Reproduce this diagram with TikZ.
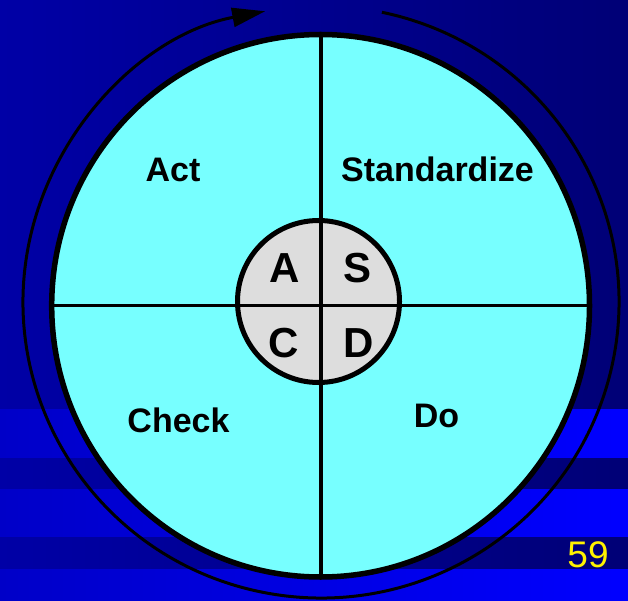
\documentclass[tikz,border=0pt]{standalone}
\usepackage{fontspec}
\setmainfont{Liberation Sans}
\usetikzlibrary{arrows.meta,calc}
\definecolor{bgL}{HTML}{0000A6}
\definecolor{bgR}{HTML}{000076}
\definecolor{stL}{HTML}{0000C8}
\definecolor{stR}{HTML}{0000FF}
\definecolor{cyanfill}{HTML}{77FFFF}
\definecolor{hubfill}{HTML}{DDDDDD}
\begin{document}
\begin{tikzpicture}[x=1pt,y=1pt,
  stripe/.style={left color=stL,right color=stR,draw=none},
  quadlabel/.style={anchor=base,inner sep=0pt,font=\fontsize{34}{40}\selectfont\bfseries},
  hublabel/.style={anchor=base,inner sep=0pt,font=\fontsize{42}{48}\selectfont\bfseries},
  divider/.style={line width=3.5pt,draw=black},
  cycle arrow/.style={line width=3pt,draw=black,-{Triangle[length=33pt,width=19pt]}},
]
\useasboundingbox (0,0) rectangle (628,600);
% background
\shade[left color=bgL,right color=bgR] (0,0) rectangle (628,600);
\shade[stripe] (0,143) rectangle (628,191);
\shade[stripe] (0,64) rectangle (628,111);
\shade[stripe] (0,0) rectangle (628,31);
% centres
\coordinate (wc) at (320.6,294.25);
\coordinate (hc) at (318.5,298.5);
\coordinate (oc) at (321,298);
\coordinate (top) at (321,565.5);
\coordinate (bot) at (321,23);
\coordinate (lft) at (51.7,294.3);
\coordinate (rgt) at (589.5,294.3);
% outer cycle arrow
\draw[cycle arrow] ($(oc)+(78.2:298pt and 296pt)$)
  arc[start angle=78.2,end angle=-259.2,x radius=298pt,y radius=296pt];
% wheel
\fill[cyanfill] (wc) ellipse [x radius=268.9pt,y radius=271.25pt];
\fill[hubfill] (hc) circle [radius=81pt];
\draw[divider] (top) -- (bot);
\draw[divider] (lft) -- (rgt);
\draw[line width=5pt] (hc) circle [radius=81pt];
\draw[line width=5.5pt] (wc) ellipse [x radius=268.9pt,y radius=271.25pt];
% labels
\node[quadlabel] (act) at (173,418.3) {Act};
\node[quadlabel] (std) at (437.5,418.3) {Standardize};
\node[quadlabel] (chk) at (178.5,168) {Check};
\node[quadlabel] (do) at (436.5,173) {Do};
\node[hublabel] (ha) at (285,317) {A};
\node[hublabel] (hs) at (357.5,317) {S};
\node[hublabel] (hcx) at (284,242.5) {C};
\node[hublabel] (hd) at (359,243) {D};
\node[anchor=base,inner sep=0pt,text=yellow,font=\fontsize{37}{44}\selectfont] (pg) at (588,33) {59};
\end{tikzpicture}
\end{document}
